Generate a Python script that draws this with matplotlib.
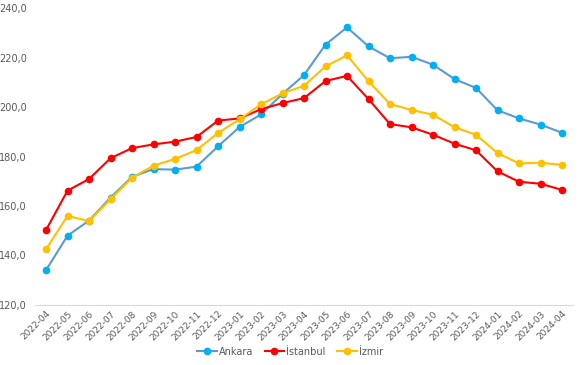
import numpy as np
import matplotlib
matplotlib.use('Agg')
import matplotlib.pyplot as plt
from matplotlib.ticker import FuncFormatter

months = ['2022-04', '2022-05', '2022-06', '2022-07', '2022-08', '2022-09', '2022-10',
          '2022-11', '2022-12', '2023-01', '2023-02', '2023-03', '2023-04', '2023-05',
          '2023-06', '2023-07', '2023-08', '2023-09', '2023-10', '2023-11', '2023-12',
          '2024-01', '2024-02', '2024-03', '2024-04']

ankara = [134.1, 148.0, 154.1, 163.4, 171.8, 174.9, 174.7, 175.9, 184.1, 191.9, 197.0,
          205.3, 212.9, 225.2, 232.2, 224.5, 219.7, 220.3, 217.1, 211.3, 207.7, 198.7,
          195.4, 192.9, 189.6]
istanbul = [150.3, 166.2, 170.9, 179.3, 183.4, 184.9, 186.0, 187.9, 194.5, 195.4, 199.1,
            201.6, 203.6, 210.5, 212.6, 203.2, 193.1, 191.8, 188.8, 185.2, 182.5, 174.0,
            169.8, 169.0, 166.5]
izmir = [142.5, 156.0, 153.9, 162.7, 171.4, 176.3, 179.0, 182.6, 189.5, 195.0, 201.1,
         205.5, 208.6, 216.4, 220.9, 210.4, 201.2, 198.8, 196.9, 191.8, 188.8, 181.4,
         177.2, 177.5, 176.6]

fig = plt.figure(figsize=(5.8, 3.65), dpi=100)
ax = fig.add_axes([0.0608, 0.1644, 0.9267, 0.8136])

x = np.arange(len(months))
ax.plot(x, ankara, color='#5B9BD5', lw=1.5, marker='o', ms=4.5,
        mfc='#00B0F0', mec='#00B0F0', label='Ankara')
ax.plot(x, istanbul, color='#FF0000', lw=1.5, marker='o', ms=4.5,
        mfc='#FF0000', mec='#FF0000', label='İstanbul')
ax.plot(x, izmir, color='#FFC000', lw=1.5, marker='o', ms=4.5,
        mfc='#FFC000', mec='#FFC000', label='İzmir')

ax.set_xlim(-0.5, len(months) - 0.5)
ax.set_ylim(120, 240)
ax.set_yticks(np.arange(120, 241, 20))
ax.yaxis.set_major_formatter(FuncFormatter(lambda v, p: f'{v:.1f}'.replace('.', ',')))
ax.set_xticks(x)
ax.set_xticklabels(months, rotation=45, ha='right', rotation_mode='anchor')

for s in ['top', 'right', 'left']:
    ax.spines[s].set_visible(False)
ax.spines['bottom'].set_color('#D9D9D9')
ax.tick_params(axis='y', length=0, labelsize=7, colors='#595959', pad=6)
ax.tick_params(axis='x', length=0, labelsize=6.5, colors='#595959', pad=3)

fig.legend(loc='center', bbox_to_anchor=(0.5, 0.036), ncol=3, frameon=False,
           fontsize=7, handlelength=2, handletextpad=0.2, columnspacing=1.2,
           labelcolor='#595959', borderpad=0)

fig.savefig('out.png', dpi=100)
